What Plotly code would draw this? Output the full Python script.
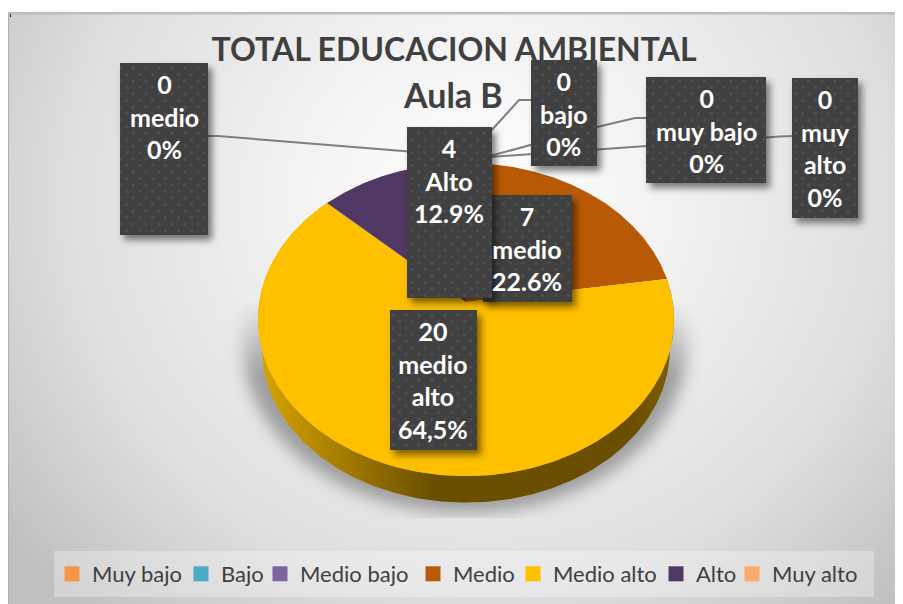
import base64
import numpy as np
import plotly.graph_objects as go

categories = ["Muy bajo", "Bajo", "Medio bajo", "Medio", "Medio alto", "Alto", "Muy alto"]
values = [0, 0, 0, 7, 20, 4, 0]
colors = ["#F79646", "#4BACC6", "#8064A2", "#B85A05", "#FFC000", "#4F3863", "#FAAC6E"]
title_main = "TOTAL EDUCACION AMBIENTAL"
title_sub = "Aula B"
label_texts = ["0<br>medio<br>0%", "4<br>Alto<br>12.9%", "0<br>bajo<br>0%", "0<br>muy bajo<br>0%",
               "0<br>muy<br>alto<br>0%", "7<br>medio<br>22.6%", "20<br>medio<br>alto<br>64,5%"]

PAGE_W, PAGE_H, M = 903, 604, 8   # the page body keeps an 8 px margin
W, H = PAGE_W - M, PAGE_H - M
X0, Y0, B, A, K = 466, 302, 206.7, 154.6, 0.112
DEPTH = 30


def rim(theta, depth=0, scale=1.0):
    u, v = np.sin(theta), np.cos(theta)
    d = 1 + K * v
    return X0 + scale * B * u / d, Y0 - scale * A * v / d + depth


total = sum(values)
edges = np.cumsum([0] + values) / total * 2 * np.pi

fig = go.Figure()

# side wall of the slice that reaches the front of the pie
for i, val in enumerate(values):
    if val == 0 or categories[i] != "Medio alto":
        continue
    t = np.linspace(edges[i], edges[i + 1], 240)
    x1, y1 = rim(t)
    x2, y2 = rim(t[::-1], DEPTH, 0.98)
    fig.add_trace(go.Scatter(
        x=np.r_[x1, x2], y=np.r_[y1, y2], mode="lines", fill="toself",
        line=dict(width=0, color="rgba(0,0,0,0)"), showlegend=False, hoverinfo="skip",
        fillgradient=dict(type="horizontal", colorscale=[
            [0, "#D8A400"], [0.12, "#B98D00"], [0.3, "#8A6800"], [0.42, "#6B4F00"],
            [0.9, "#6B4F00"], [1, "#7E5E00"]]),
    ))

# top faces
for i, val in enumerate(values):
    if val == 0:
        continue
    t = np.linspace(edges[i], edges[i + 1], 240)
    x, y = rim(t)
    fig.add_trace(go.Scatter(
        x=np.r_[X0, x, X0], y=np.r_[Y0, y, Y0], mode="lines", fill="toself",
        fillcolor=colors[i], line=dict(width=0, color=colors[i]),
        showlegend=False, hoverinfo="skip",
    ))

# legend entries: one small legend per category so each can sit where the reference has it
legend_text_left = [92, 221, 300, 453, 553, 696, 772]
legend_layout = {}
for j, (name, col, left) in enumerate(zip(categories, colors, legend_text_left)):
    key = "legend" if j == 0 else f"legend{j + 1}"
    fig.add_trace(go.Scatter(x=[None], y=[None], mode="markers", name=name, legend=key,
                             marker=dict(symbol="square", size=15, color=col)))
    legend_layout[key] = dict(x=(left - 40 - M) / W, xanchor="left", y=1 - (574 - M) / H, yanchor="middle",
                              bgcolor="rgba(0,0,0,0)", font=dict(family="Lato", size=22, color="#404040"),
                              itemclick=False, itemdoubleclick=False)

view = f'width="{W}" height="{H}" viewBox="{M} {M} {W} {H}"'
bg_svg = f'''<svg xmlns="http://www.w3.org/2000/svg" {view}>
<defs>
<radialGradient id="g" gradientUnits="userSpaceOnUse" cx="0" cy="0" r="1"
 gradientTransform="translate(480 200) scale(590 560)">
<stop offset="0" stop-color="#ffffff"/><stop offset="0.3" stop-color="#f3f3f3"/>
<stop offset="0.7" stop-color="#dedede"/><stop offset="1" stop-color="#c0c0c0"/>
</radialGradient>
<linearGradient id="f" x1="0" y1="0" x2="0" y2="1">
<stop offset="0" stop-color="#000"/><stop offset="0.35" stop-color="#fff"/>
</linearGradient>
<mask id="m" maskUnits="userSpaceOnUse" x="200" y="300" width="530" height="218"><rect x="200" y="300" width="530" height="218" fill="url(#f)"/></mask>
<filter id="b" x="-20%" y="-20%" width="140%" height="140%"><feGaussianBlur stdDeviation="8"/></filter>
</defs>
<rect x="0" y="0" width="{PAGE_W}" height="{PAGE_H}" fill="#ffffff"/>
<rect x="8" y="12" width="{PAGE_W-8}" height="{PAGE_H-12}" fill="url(#g)"/>
<rect x="8" y="12" width="{PAGE_W-8}" height="2.5" fill="#bdbdbd"/>
<rect x="8" y="12" width="1" height="{PAGE_H-12}" fill="#b0b0b0"/>
<rect x="10" y="14" width="1" height="3" fill="#222"/>
<g mask="url(#m)"><ellipse cx="465" cy="345" rx="222" ry="168" fill="#8c8c8c" fill-opacity="0.8" filter="url(#b)"/></g>
</svg>'''

boxes = [(120, 63, 88, 172), (483, 195, 89, 107), (407, 127, 85, 171), (531, 60, 66, 106),
         (646, 77, 120, 106), (792, 78, 66, 140), (390, 310, 87, 140)]
rects = "".join(f'<rect x="{x}" y="{y}" width="{w}" height="{h}" fill="#404040" filter="url(#s)"/>'
                f'<rect x="{x}" y="{y}" width="{w}" height="{h}" fill="url(#p)"/>' for x, y, w, h in boxes)
box_svg = f'''<svg xmlns="http://www.w3.org/2000/svg" {view}>
<defs>
<pattern id="p" width="13" height="13" patternUnits="userSpaceOnUse">
<circle cx="3" cy="3" r="1.6" fill="#565656" fill-opacity="0.7"/><circle cx="9.5" cy="9.5" r="1.6" fill="#565656" fill-opacity="0.7"/>
</pattern>
<filter id="s" x="-30%" y="-30%" width="170%" height="170%"><feDropShadow dx="4" dy="5" stdDeviation="3.5" flood-color="#000" flood-opacity="0.5"/></filter>
</defs>{rects}</svg>'''


def uri(svg):
    return "data:image/svg+xml;base64," + base64.b64encode(svg.encode()).decode()


images = [
    dict(source=uri(bg_svg), xref="paper", yref="paper", x=0, y=1, sizex=1, sizey=1,
         xanchor="left", yanchor="top", sizing="stretch", layer="below"),
    dict(source=uri(box_svg), xref="paper", yref="paper", x=0, y=1, sizex=1, sizey=1,
         xanchor="left", yanchor="top", sizing="stretch", layer="above"),
]

leaders = ["M208,136 L218,136 L490,158", "M490,132 L519,100 L531,100", "M490,156 L597,127 L635,118 L646,118",
           "M490,157 L780,136.5 L792,136"]
shapes = [dict(type="path", path=p, xref="x", yref="y", layer="below",
               line=dict(color="#7f7f7f", width=2)) for p in leaders]
shapes.append(dict(type="rect", xref="x", yref="y", x0=54, x1=874, y0=551, y1=597, layer="below",
                   fillcolor="rgba(255,255,255,0.3)", line=dict(width=0)))

label_pos = [(164, 67), (449, 131), (564, 64), (706, 81), (825, 82), (527, 199), (433, 314)]
annotations = [dict(x=x, y=y, xref="x", yref="y", text=f"<b>{t}</b>", showarrow=False, xanchor="center", yanchor="top",
                    align="center", font=dict(family="Lato", size=25, color="white"))
               for (x, y), t in zip(label_pos, label_texts)]
annotations.insert(0, dict(x=453, y=94, xref="x", yref="y", text=f"<b>{title_sub}</b>", showarrow=False,
                           xanchor="center", yanchor="middle", font=dict(family="Lato", size=34, color="#404040")))

fig.update_layout(
    width=W, height=H, margin=dict(l=0, r=0, t=0, b=0), autosize=False,
    paper_bgcolor="white", plot_bgcolor="rgba(0,0,0,0)",
    xaxis=dict(range=[M, PAGE_W], visible=False, fixedrange=True),
    yaxis=dict(range=[PAGE_H, M], visible=False, fixedrange=True),
    title=dict(text=f"<b>{title_main}</b>", x=(454 - M) / W, xanchor="center",
               y=1 - (50 - M) / H, yanchor="middle", yref="container",
               font=dict(family="Lato", size=32, color="#404040")),
    images=images, shapes=shapes, annotations=annotations, hovermode=False, showlegend=True,
    **legend_layout,
)

fig.write_html("out.html", config=dict(displayModeBar=False))
